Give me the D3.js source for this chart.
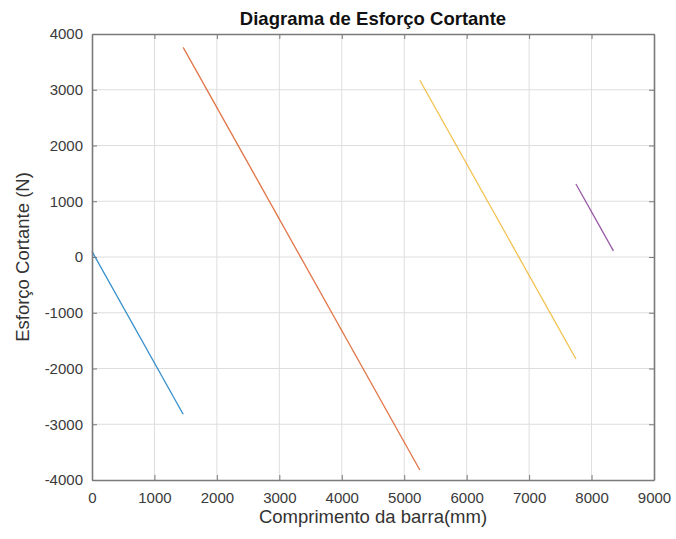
<!DOCTYPE html>
<html>
<head>
<meta charset="utf-8">
<script src="https://cdn.jsdelivr.net/npm/d3@7"></script>
<style>
  body { margin: 0; background: #fff; }
  svg { display: block; font-family: "Liberation Sans", Arial, sans-serif; }
</style>
</head>
<body>
<div id="chart"></div>
<script>
const width = 676;
const height = 539;
const margin = { top: 34, right: 22, bottom: 59, left: 92 };

// Trechos do diagrama (x em mm, V em N)
const trechoX = [
  [0, 1460],
  [1460, 5250],
  [5250, 7750],
  [7750, 8350]
];
const trechoV = [
  [100, -2820],
  [3760, -3820],
  [3170, -1830],
  [1310, 110]
];
const colors = ['#0072BD', '#D95319', '#EDB120', '#7E2F8E'];
const xTicks = [0, 1000, 2000, 3000, 4000, 5000, 6000, 7000, 8000, 9000];
const yTicks = [-4000, -3000, -2000, -1000, 0, 1000, 2000, 3000, 4000];

const svg = d3.select('#chart')
  .append('svg')
    .attr('width', width)
    .attr('height', height);

const x = d3.scaleLinear()
  .domain([0, 9000])
  .range([margin.left, width - margin.right]);

const y = d3.scaleLinear()
  .domain([-4000, 4000])
  .range([height - margin.bottom, margin.top]);

// grid
svg.append('g')
  .selectAll('line')
  .data(xTicks.slice(1, -1))
  .join('line')
    .attr('x1', d => x(d)).attr('x2', d => x(d))
    .attr('y1', y(4000)).attr('y2', y(-4000))
    .attr('stroke', '#dedede');

svg.append('g')
  .selectAll('line')
  .data(yTicks.slice(1, -1))
  .join('line')
    .attr('x1', x(0)).attr('x2', x(9000))
    .attr('y1', d => y(d)).attr('y2', d => y(d))
    .attr('stroke', '#dedede');

// curves
const line = d3.line()
  .x(d => x(d[0]))
  .y(d => y(d[1]));

trechoX.forEach((xs, i) => {
  const pts = xs.map((v, j) => [v, trechoV[i][j]]);
  svg.append('path')
    .datum(pts)
    .attr('fill', 'none')
    .attr('stroke', colors[i])
    .attr('stroke-width', 1.3)
    .attr('stroke-opacity', 0.8)
    .attr('d', line);
});

// axes (MATLAB box style, ticks inside)
const axisColor = '#7a7a7a';
const fmt = d => String(d);

const gBottom = svg.append('g')
  .attr('transform', `translate(0, ${y(-4000)})`)
  .call(d3.axisBottom(x).tickValues(xTicks).tickFormat(fmt).tickSizeInner(-5).tickSizeOuter(0).tickPadding(12));

const gLeft = svg.append('g')
  .attr('transform', `translate(${x(0)}, 0)`)
  .call(d3.axisLeft(y).tickValues(yTicks).tickFormat(fmt).tickSizeInner(-5).tickSizeOuter(0).tickPadding(9));

const gTop = svg.append('g')
  .attr('transform', `translate(0, ${y(4000)})`)
  .call(d3.axisTop(x).tickValues(xTicks).tickFormat('').tickSizeInner(-5).tickSizeOuter(0));

const gRight = svg.append('g')
  .attr('transform', `translate(${x(9000)}, 0)`)
  .call(d3.axisRight(y).tickValues(yTicks).tickFormat('').tickSizeInner(-5).tickSizeOuter(0));

[gBottom, gLeft, gTop, gRight].forEach(g => {
  g.style('color', axisColor);
  g.select('.domain').attr('stroke-width', 1.6);
  g.selectAll('text')
    .attr('fill', '#3a3a3a')
    .style('font-size', '15px')
    .style('font-family', '"Liberation Sans", Arial, sans-serif');
});

// title and labels
svg.append('text')
  .attr('x', (x(0) + x(9000)) / 2)
  .attr('y', 25)
  .attr('text-anchor', 'middle')
  .attr('font-size', 18.5)
  .attr('font-weight', 'bold')
  .attr('fill', '#111')
  .text('Diagrama de Esforço Cortante');

svg.append('text')
  .attr('x', (x(0) + x(9000)) / 2)
  .attr('y', 523)
  .attr('text-anchor', 'middle')
  .attr('font-size', 18.5)
  .attr('fill', '#333')
  .text('Comprimento da barra(mm)');

svg.append('text')
  .attr('transform', `translate(29, ${y(0)}) rotate(-90)`)
  .attr('text-anchor', 'middle')
  .attr('font-size', 18.5)
  .attr('fill', '#333')
  .text('Esforço Cortante (N)');
</script>
</body>
</html>
